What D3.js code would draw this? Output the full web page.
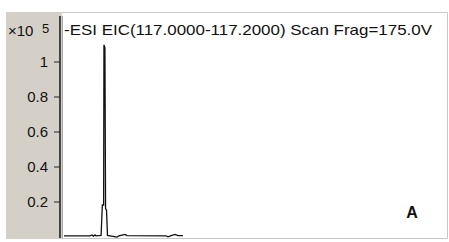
<!DOCTYPE html>
<html>
<head>
<meta charset="utf-8">
<script src="https://cdn.jsdelivr.net/npm/d3@7"></script>
<style>
  body { margin: 0; background: #fff; }
  svg { display: block; font-family: "Liberation Sans", Arial, sans-serif; }
</style>
</head>
<body>
<div id="chart"></div>
<script>
// EIC trace, time in arbitrary minutes, intensity in x10^5 counts
const times = [0.03, 0.84, 0.91, 0.95, 1.0, 1.03, 1.19, 1.23, 1.27, 1.28, 1.31, 1.33, 1.36, 1.39,
               1.69, 1.75, 1.94, 2.0, 3.22, 3.28, 3.38, 3.5, 3.59, 3.75];
const counts = [0.004, 0.004, 0.009, 0.002, 0.009, 0.004, 0.006, 0.18, 0.18, 1.095, 1.08, 0.16, 0.15, 0.006,
                -0.003, 0.004, 0.012, 0.005, 0.004, -0.002, 0.005, 0.012, 0.005, 0.005];
const yTicks = [0.2, 0.4, 0.6, 0.8, 1];
const title = "-ESI EIC(117.0000-117.2000) Scan Frag=175.0V";
const panelLabel = "A";

const W = 449, H = 242;
const plot = { left: 62, top: 12, right: 447, bottom: 238 };

const svg = d3.select('#chart').append('svg')
    .attr('width', W).attr('height', H);

// grey axis panel
svg.append('rect')
    .attr('x', 6).attr('y', plot.top)
    .attr('width', plot.left - 6).attr('height', plot.bottom - plot.top + 1)
    .attr('fill', '#d4d0c8');

// plot frame
svg.append('path')
    .attr('d', `M${plot.left},${plot.top + 0.5}H${plot.right + 0.5}V${plot.bottom + 0.5}H${plot.left}`)
    .attr('fill', 'none').attr('stroke', '#c8c8c8');

const x = d3.scaleLinear().domain([0, 12]).range([63, 447]);
const y = d3.scaleLinear().domain([0, 1]).range([236.5, 61.5]);

const yAxis = svg.append('g')
    .attr('transform', 'translate(60,0)')
    .call(d3.axisLeft(y).tickValues(yTicks).tickSize(6).tickPadding(6).tickFormat(d3.format('~g')));
yAxis.select('.domain').remove();
yAxis.selectAll('text').attr('font-size', 15).attr('fill', '#111')
    .attr('font-family', '"Liberation Sans", Arial, sans-serif');
yAxis.selectAll('line').attr('stroke', '#222');

// axis line with light edge
svg.append('line').attr('x1', 60).attr('x2', 60).attr('y1', plot.top + 4).attr('y2', plot.bottom)
    .attr('stroke', '#222').attr('stroke-width', 1.6);
svg.append('line').attr('x1', 62.5).attr('x2', 62.5).attr('y1', plot.top + 4).attr('y2', plot.bottom)
    .attr('stroke', '#a8a8a8').attr('stroke-width', 1);

const line = d3.line()
    .x((d, i) => x(times[i]))
    .y(d => y(d));

svg.append('path')
    .datum(counts)
    .attr('d', line)
    .attr('fill', 'none')
    .attr('stroke', '#111')
    .attr('stroke-width', 1.3);

svg.append('text').attr('x', 8).attr('y', 36).attr('font-size', 15).attr('fill', '#111').text('×10');
svg.append('text').attr('x', 42).attr('y', 33).attr('font-size', 13).attr('fill', '#111').text('5');

svg.append('text').attr('x', 64).attr('y', 35).attr('font-size', 15).attr('fill', '#111')
    .attr('textLength', 368).attr('lengthAdjust', 'spacingAndGlyphs').text(title);

svg.append('text').attr('x', 412).attr('y', 218).attr('text-anchor', 'middle')
    .attr('font-size', 16).attr('font-weight', 'bold').attr('fill', '#111').text(panelLabel);
</script>
</body>
</html>
